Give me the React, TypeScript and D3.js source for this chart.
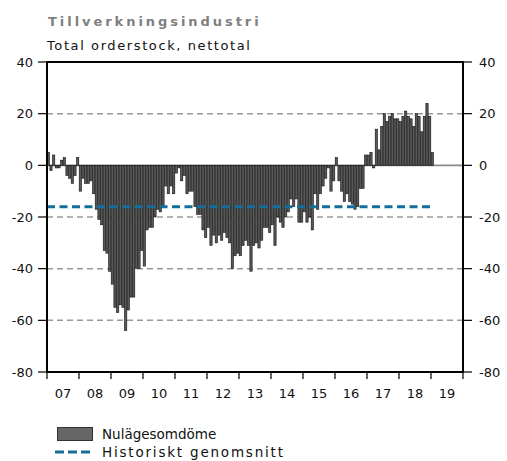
import * as d3 from 'd3';

// Nulägesomdöme, total orderstock, one value per month (Jan 2007 - Jan 2019)
const values2007 = [5, -2, 4, -1, -1, 2, 3, -4, -5, -7, -4, 3];
const values2008 = [-10, -5, -7, -7, -6, -11, -17, -21, -23, -33, -34, -41];
const values2009 = [-46, -55, -57, -54, -55, -64, -56, -51, -51, -40, -40, -33];
const values2010 = [-39, -25, -24, -24, -20, -17, -18, -16, -8, -11, -8, -11];
const values2011 = [-3, -1, -6, -4, -11, -10, -10, -16, -19, -19, -25, -28];
const values2012 = [-24, -31, -27, -30, -27, -29, -26, -28, -30, -40, -35, -34];
const values2013 = [-35, -31, -29, -31, -41, -31, -30, -32, -29, -24, -24, -26];
const values2014 = [-23, -31, -20, -22, -24, -20, -18, -13, -16, -13, -22, -22];
const values2015 = [-18, -22, -20, -25, -11, -17, -11, -8, -5, -1, -10, -6];
const values2016 = [3, -6, -10, -14, -11, -14, -15, -17, -16, -9, -9, 4];
const values2017 = [4, 5, -1, 14, 6, 15, 20, 17, 19, 20, 18, 18];
const values2018 = [17, 19, 21, 19, 18, 15, 20, 19, 13, 19, 24, 19];
const values2019 = [5];

const historicAverage = -16;
const avgMonths = 144; // the average line runs through Dec 2018

const yearLabels = ['07', '08', '09', '10', '11', '12', '13', '14', '15', '16', '17', '18', '19'];
const yTicks = [-80, -60, -40, -20, 0, 20, 40];
const gridValues = [20, -20, -40, -60];

const values = [
  ...values2007, ...values2008, ...values2009, ...values2010, ...values2011,
  ...values2012, ...values2013, ...values2014, ...values2015, ...values2016,
  ...values2017, ...values2018, ...values2019,
];

const W = 507;
const H = 461;
const plot = { left: 47, right: 463, top: 62, bottom: 372 };
const font = '"DejaVu Sans", Verdana, sans-serif';
const blue = '#146e9c';

export default function App() {
  const x = d3.scaleLinear().domain([0, yearLabels.length * 12]).range([plot.left, plot.right]);
  const y = d3.scaleLinear().domain([-80, 40]).range([plot.bottom, plot.top]);
  const bw = x(1) - x(0);

  const avgLine = d3
    .line<number>()
    .x((d) => x(d))
    .y(() => y(historicAverage));

  return (
    <svg
      width={W}
      height={H}
      style={{ position: 'absolute', left: 0, top: 0, background: '#fff' }}
      fontFamily={font}
    >
      <text x={48} y={26} fontSize={13} fontWeight="bold" fill="#7f7f7f" letterSpacing={2.95}>
        Tillverkningsindustri
      </text>
      <text x={47} y={50} fontSize={13} fill="#111" letterSpacing={1.6}>
        Total orderstock, nettotal
      </text>

      {/* grid */}
      {gridValues.map((v) => (
        <line
          key={v}
          x1={plot.left}
          x2={plot.right}
          y1={y(v)}
          y2={y(v)}
          stroke="#999"
          strokeWidth={1.5}
          strokeDasharray="6 4"
        />
      ))}
      <line x1={plot.left} x2={plot.right} y1={y(0)} y2={y(0)} stroke="#8a8a8a" strokeWidth={1.8} />

      {/* bars */}
      <g>
        {values.map((v, i) => (
          <rect
            key={i}
            x={x(i) + 0.2}
            width={bw - 0.4}
            y={y(Math.max(0, v))}
            height={Math.abs(y(v) - y(0))}
            fill="#595959"
            stroke="#111"
            strokeWidth={0.6}
          />
        ))}
      </g>

      {/* historical average */}
      <path
        d={avgLine([0, avgMonths]) ?? ''}
        fill="none"
        stroke={blue}
        strokeWidth={3}
        strokeDasharray="8 4.5"
      />

      {/* frame */}
      <line x1={plot.left} x2={plot.right} y1={plot.top} y2={plot.top} stroke="#000" strokeWidth={2} />
      <line x1={plot.left} x2={plot.right} y1={plot.bottom} y2={plot.bottom} stroke="#000" strokeWidth={2} />
      <line x1={plot.left} x2={plot.left} y1={plot.top - 1} y2={plot.bottom + 1} stroke="#000" strokeWidth={2} />
      <line x1={plot.right} x2={plot.right} y1={plot.top - 1} y2={plot.bottom + 1} stroke="#000" strokeWidth={2} />

      {/* y axes */}
      {yTicks.map((t) => (
        <g key={t}>
          <line x1={plot.left - 9} x2={plot.left} y1={y(t)} y2={y(t)} stroke="#000" strokeWidth={1.2} />
          <text x={33} y={y(t)} dy="0.36em" textAnchor="end" fontSize={13} fill="#111">
            {t}
          </text>
          <line x1={plot.right} x2={plot.right + 9} y1={y(t)} y2={y(t)} stroke="#000" strokeWidth={1.2} />
          <text x={479} y={y(t)} dy="0.36em" fontSize={13} fill="#111">
            {t}
          </text>
        </g>
      ))}

      {/* x axis */}
      {d3.range(yearLabels.length + 1).map((k) => (
        <line
          key={k}
          x1={x(k * 12)}
          x2={x(k * 12)}
          y1={plot.bottom}
          y2={plot.bottom + 7}
          stroke="#000"
          strokeWidth={1.2}
        />
      ))}
      {yearLabels.map((lab, k) => (
        <text key={lab} x={x(k * 12 + 6)} y={398} textAnchor="middle" fontSize={13} fill="#111">
          {lab}
        </text>
      ))}

      {/* legend */}
      <rect x={57.5} y={427.5} width={35} height={13} fill="#666" stroke="#333" strokeWidth={1} />
      <text x={102} y={439} fontSize={13.5} fill="#111">
        Nulägesomdöme
      </text>
      <line x1={55} x2={93} y1={452} y2={452} stroke={blue} strokeWidth={3} strokeDasharray="9 4" />
      <text x={102} y={457} fontSize={13.5} fill="#111" letterSpacing={1.8}>
        Historiskt genomsnitt
      </text>
    </svg>
  );
}
